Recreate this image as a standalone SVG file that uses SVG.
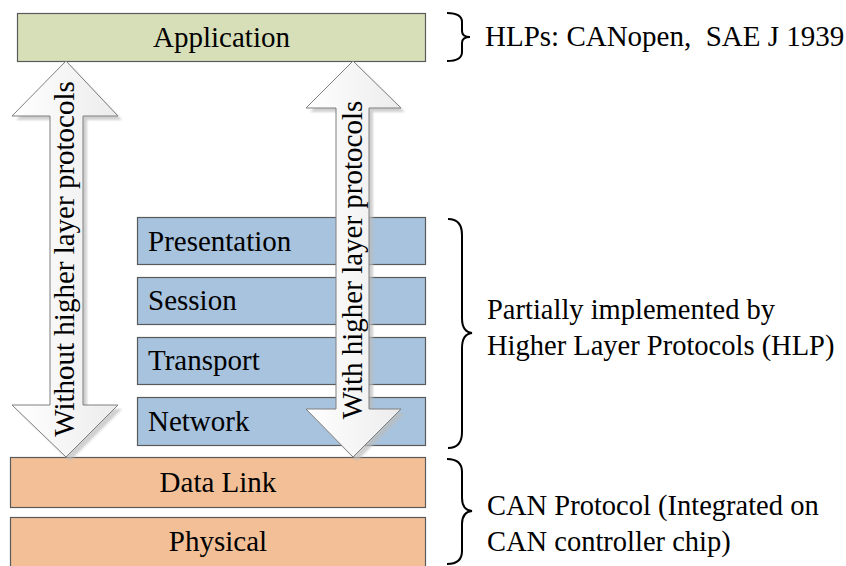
<svg xmlns="http://www.w3.org/2000/svg" width="846" height="566" viewBox="0 0 846 566">
  <style>
    .box { stroke: #5a5a5a; stroke-width: 1.2; }
    .app { fill: #d7dfb8; }
    .mid { fill: #a7c3dd; }
    .can { fill: #f2bf97; }
    .t { font-family: 'Liberation Serif', 'Times New Roman', serif; font-size: 29px; fill: #000; }
    .r { font-family: 'Liberation Serif', 'Times New Roman', serif; font-size: 28.5px; fill: #000; }
    .arrow { fill: url(#ag); stroke: #7f7f7f; stroke-width: 1; }
    .shadow { fill: #bdbdbd; opacity: 0.7; filter: url(#blur); }
    .brace { fill: none; stroke: #000; stroke-width: 2; }
  </style>
  <defs>
    <linearGradient id="ag" x1="0" y1="0" x2="1" y2="0">
      <stop offset="0" stop-color="#ffffff"/>
      <stop offset="1" stop-color="#ececec"/>
    </linearGradient>
    <filter id="blur" x="-20%" y="-20%" width="140%" height="140%">
      <feGaussianBlur stdDeviation="1.2"/>
    </filter>
  </defs>
  <rect width="846" height="566" fill="#ffffff"/>

  <g id="application">
    <rect class="box app" x="17.5" y="13.5" width="408" height="48"/>
    <text class="t" x="221.5" y="47" text-anchor="middle">Application</text>
  </g>
  <g id="presentation">
    <rect class="box mid" x="137.5" y="217.5" width="288" height="47"/>
    <text class="t" x="148" y="251">Presentation</text>
  </g>
  <g id="session">
    <rect class="box mid" x="137.5" y="277.5" width="288" height="47"/>
    <text class="t" x="148" y="310">Session</text>
  </g>
  <g id="transport">
    <rect class="box mid" x="137.5" y="337.5" width="288" height="47"/>
    <text class="t" x="148" y="370">Transport</text>
  </g>
  <g id="network">
    <rect class="box mid" x="137.5" y="397.5" width="288" height="48"/>
    <text class="t" x="148" y="431">Network</text>
  </g>
  <g id="datalink">
    <rect class="box can" x="10.5" y="457.5" width="415" height="50"/>
    <text class="t" x="218" y="492" text-anchor="middle">Data Link</text>
  </g>
  <g id="physical">
    <rect class="box can" x="10.5" y="517.5" width="415" height="54"/>
    <text class="t" x="218" y="551" text-anchor="middle">Physical</text>
  </g>

  <g id="connectors">
    <g id="arrow-without">
      <path class="shadow" transform="translate(4,4)" d="M66,61 L118,116 L83,116 L83,405 L118,405 L66,457 L12,405 L50,405 L50,116 L12,116 Z"/>
      <path class="arrow" d="M66,61 L118,116 L83,116 L83,405 L118,405 L66,457 L12,405 L50,405 L50,116 L12,116 Z"/>
      <text class="t" transform="translate(74,259) rotate(-90)" text-anchor="middle">Without higher layer protocols</text>
    </g>
    <g id="arrow-with">
      <path class="shadow" transform="translate(4,4)" d="M353,61 L401,108 L369,108 L369,409 L401,409 L353,457 L306,409 L336,409 L336,108 L306,108 Z"/>
      <path class="arrow" d="M353,61 L401,108 L369,108 L369,409 L401,409 L353,457 L306,409 L336,409 L336,108 L306,108 Z"/>
      <text class="t" transform="translate(362,260) rotate(-90)" text-anchor="middle">With higher layer protocols</text>
    </g>
  </g>

  <g id="label-hlps">
    <path class="brace" d="M447,13 Q462,13 462,22 L462,31 Q462,37 470,37 Q462,37 462,43 L462,52 Q462,61 447,61"/>
    <text class="t" x="485" y="46" xml:space="preserve">HLPs: CANopen,  SAE J 1939</text>
  </g>
  <g id="label-partial">
    <path class="brace" d="M448,219 Q462,219 462,235 L462,318 Q462,332 472,333 Q462,334 462,348 L462,432 Q462,448 448,448"/>
    <text class="r" x="487" y="319">Partially implemented by</text>
    <text class="r" x="487" y="355">Higher Layer Protocols (HLP)</text>
  </g>
  <g id="label-can">
    <path class="brace" d="M447,459 Q462,459 462,472 L462,498 Q462,510 472,511 Q462,512 462,524 L462,551 Q462,564 447,564"/>
    <text class="r" x="487" y="515">CAN Protocol (Integrated on</text>
    <text class="r" x="487" y="551">CAN controller chip)</text>
  </g>
</svg>
